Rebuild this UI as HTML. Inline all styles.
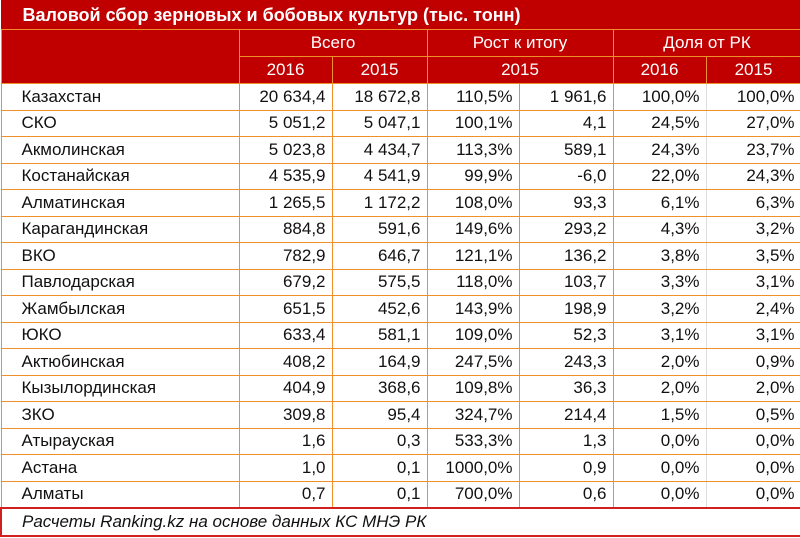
<!DOCTYPE html>
<html><head><meta charset="utf-8"><style>
body{margin:0;width:800px;height:538px;background:#fff;font-family:"Liberation Sans",sans-serif;overflow:hidden}
table{position:absolute;left:0;top:0;border-collapse:collapse;table-layout:fixed;width:800px}
td{padding:0 6px;font-size:17px;color:#111;border:1px solid #f0902c;height:25.5px;white-space:nowrap;overflow:hidden;text-align:right}
td.n{text-align:left;padding-left:20px}
.t{background:#c00000;color:#fff;font-weight:bold;font-size:18px;text-align:left;padding-left:21px;height:28px;border:1px solid #c00000;border-bottom-color:#f0902c}
.h td{background:#c00000;color:#fff;text-align:center;height:26px}
td.g{border-right-color:#ddd}
.f td{border:2px solid #d02020;font-style:italic;text-align:left;padding-left:20px;height:26px;font-size:17px}
</style></head><body>
<table>
<colgroup><col style="width:238px"><col style="width:93px"><col style="width:95px"><col style="width:92px"><col style="width:94px"><col style="width:93px"><col style="width:95px"></colgroup>
<tr><td class="t" colspan="7">Валовой сбор зерновых и бобовых культур (тыс. тонн)</td></tr>
<tr class="h"><td rowspan="2"></td><td colspan="2">Всего</td><td colspan="2">Рост к итогу</td><td colspan="2">Доля от РК</td></tr>
<tr class="h"><td>2016</td><td>2015</td><td colspan="2">2015</td><td>2016</td><td>2015</td></tr>
<tr><td class="n">Казахстан</td><td>20 634,4</td><td>18 672,8</td><td>110,5%</td><td>1 961,6</td><td class="g">100,0%</td><td>100,0%</td></tr>
<tr><td class="n">СКО</td><td>5 051,2</td><td>5 047,1</td><td>100,1%</td><td>4,1</td><td class="g">24,5%</td><td>27,0%</td></tr>
<tr><td class="n">Акмолинская</td><td>5 023,8</td><td>4 434,7</td><td>113,3%</td><td>589,1</td><td class="g">24,3%</td><td>23,7%</td></tr>
<tr><td class="n">Костанайская</td><td>4 535,9</td><td>4 541,9</td><td>99,9%</td><td>-6,0</td><td class="g">22,0%</td><td>24,3%</td></tr>
<tr><td class="n">Алматинская</td><td>1 265,5</td><td>1 172,2</td><td>108,0%</td><td>93,3</td><td class="g">6,1%</td><td>6,3%</td></tr>
<tr><td class="n">Карагандинская</td><td>884,8</td><td>591,6</td><td>149,6%</td><td>293,2</td><td class="g">4,3%</td><td>3,2%</td></tr>
<tr><td class="n">ВКО</td><td>782,9</td><td>646,7</td><td>121,1%</td><td>136,2</td><td class="g">3,8%</td><td>3,5%</td></tr>
<tr><td class="n">Павлодарская</td><td>679,2</td><td>575,5</td><td>118,0%</td><td>103,7</td><td class="g">3,3%</td><td>3,1%</td></tr>
<tr><td class="n">Жамбылская</td><td>651,5</td><td>452,6</td><td>143,9%</td><td>198,9</td><td class="g">3,2%</td><td>2,4%</td></tr>
<tr><td class="n">ЮКО</td><td>633,4</td><td>581,1</td><td>109,0%</td><td>52,3</td><td class="g">3,1%</td><td>3,1%</td></tr>
<tr><td class="n">Актюбинская</td><td>408,2</td><td>164,9</td><td>247,5%</td><td>243,3</td><td class="g">2,0%</td><td>0,9%</td></tr>
<tr><td class="n">Кызылординская</td><td>404,9</td><td>368,6</td><td>109,8%</td><td>36,3</td><td class="g">2,0%</td><td>2,0%</td></tr>
<tr><td class="n">ЗКО</td><td>309,8</td><td>95,4</td><td>324,7%</td><td>214,4</td><td class="g">1,5%</td><td>0,5%</td></tr>
<tr><td class="n">Атырауская</td><td>1,6</td><td>0,3</td><td>533,3%</td><td>1,3</td><td class="g">0,0%</td><td>0,0%</td></tr>
<tr><td class="n">Астана</td><td>1,0</td><td>0,1</td><td>1000,0%</td><td>0,9</td><td class="g">0,0%</td><td>0,0%</td></tr>
<tr><td class="n">Алматы</td><td>0,7</td><td>0,1</td><td>700,0%</td><td>0,6</td><td class="g">0,0%</td><td>0,0%</td></tr>
<tr class="f"><td colspan="7">Расчеты Ranking.kz на основе данных КС МНЭ РК</td></tr>
</table>
</body></html>
